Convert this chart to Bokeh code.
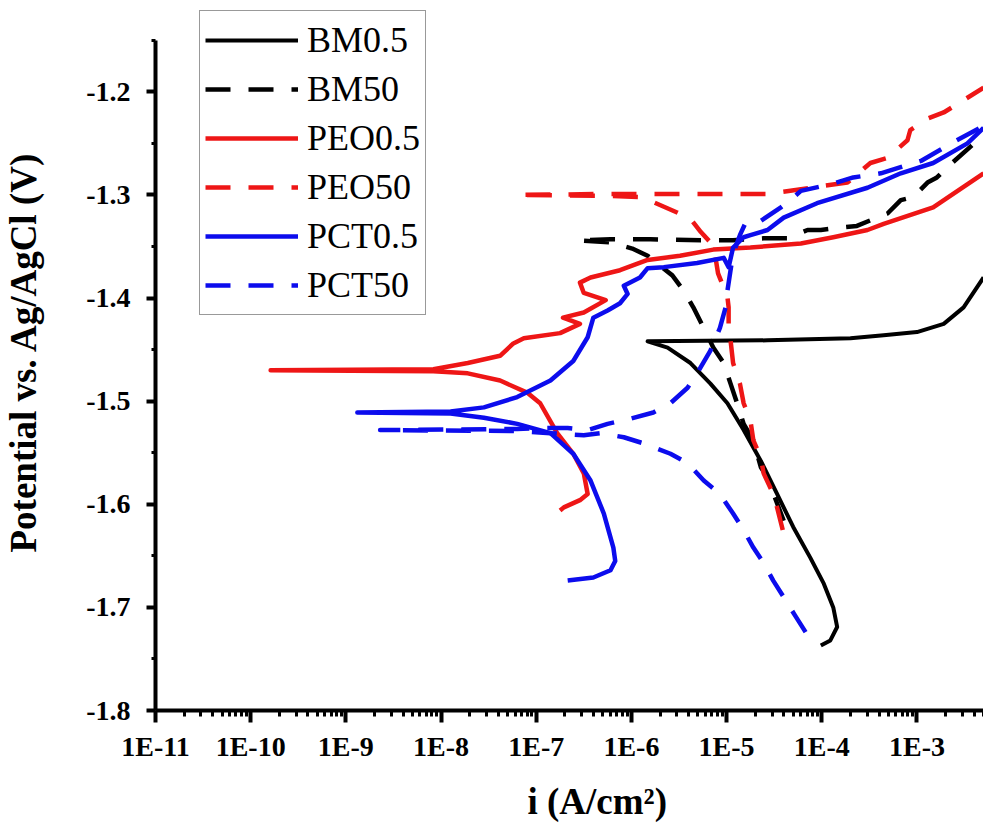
import math
from bokeh.plotting import figure
from bokeh.models import (Range1d, FixedTicker, CustomJSTickFormatter, Legend,
                          LegendItem, Title, ColumnDataSource)
from bokeh.embed import file_html
from bokeh.resources import INLINE

# ---------------- data (current density A/cm2, potential V vs Ag/AgCl) ----------------
bm05_i = [9.77e-5, 1.23e-4, 1.45e-4, 1.32e-4, 1.05e-4, 7.59e-5, 5.01e-5, 3.39e-5, 2.29e-5,
          1.51e-5, 1.02e-5, 6.76e-6, 4.17e-6, 2.40e-6, 1.48e-6, 2.69e-5, 2.00e-4, 4.47e-4,
          1.00e-3, 1.91e-3, 3.09e-3, 5.01e-3]
bm05_E = [-1.737, -1.732, -1.719, -1.700, -1.677, -1.652, -1.622, -1.590, -1.558,
          -1.528, -1.502, -1.483, -1.463, -1.448, -1.442, -1.441, -1.439, -1.436,
          -1.433, -1.425, -1.409, -1.380]

bm50_i = [3.98e-5, 3.39e-5, 2.69e-5, 2.29e-5, 1.91e-5, 1.51e-5, 1.29e-5, 1.10e-5, 9.33e-6,
          7.24e-6, 5.75e-6, 4.47e-6, 3.55e-6, 2.69e-6, 1.48e-6, 1.02e-6, 6.03e-7, 2.75e-7,
          6.03e-7, 1.58e-6, 5.37e-6, 1.17e-5, 2.45e-5, 4.37e-5, 7.08e-5, 9.77e-5, 1.45e-4,
          2.34e-4, 3.80e-4, 4.90e-4, 6.76e-4, 9.12e-4, 1.29e-3, 1.62e-3, 2.40e-3, 5.01e-3]
bm50_E = [-1.616, -1.599, -1.574, -1.564, -1.538, -1.522, -1.502, -1.483, -1.463,
          -1.448, -1.429, -1.409, -1.393, -1.378, -1.359, -1.352, -1.346, -1.344,
          -1.343, -1.343, -1.344, -1.344, -1.342, -1.342, -1.334, -1.334, -1.332,
          -1.330, -1.322, -1.318, -1.305, -1.302, -1.288, -1.283, -1.268, -1.242]

peo05_i = [1.78e-7, 1.95e-7, 2.88e-7, 3.47e-7, 3.16e-7, 2.45e-7, 1.66e-7, 1.10e-7, 8.13e-8,
           4.17e-8, 1.91e-8, 8.3e-9, 1.62e-10, 8.3e-9, 1.91e-8, 4.17e-8, 5.75e-8, 7.41e-8,
           1.78e-7, 2.88e-7, 1.91e-7, 3.16e-7, 5.37e-7, 3.16e-7, 2.88e-7, 3.72e-7, 7.59e-7,
           1.48e-6, 3.24e-6, 7.24e-6, 1.78e-5, 6.03e-5, 1.32e-4, 3.02e-4, 4.47e-4, 1.48e-3,
           5.01e-3]
peo05_E = [-1.606, -1.603, -1.596, -1.590, -1.570, -1.551, -1.531, -1.502, -1.492,
           -1.480, -1.473, -1.471, -1.470, -1.469, -1.463, -1.456, -1.444, -1.439,
           -1.434, -1.425, -1.419, -1.414, -1.402, -1.395, -1.385, -1.380, -1.373,
           -1.363, -1.359, -1.353, -1.351, -1.347, -1.341, -1.334, -1.328, -1.312,
           -1.279]

peo50_i = [3.89e-5, 3.39e-5, 3.09e-5, 2.45e-5, 2.29e-5, 1.91e-5, 1.78e-5, 1.51e-5, 1.38e-5,
           1.17e-5, 1.10e-5, 1.05e-5, 1.05e-5, 1.02e-5, 8.13e-6, 7.59e-6, 6.76e-6, 5.37e-6,
           4.17e-6, 3.02e-6, 1.70e-6, 1.23e-6, 6.03e-7, 6.31e-8, 6.03e-7, 5.37e-6, 2.69e-5,
           4.68e-5, 7.59e-5, 1.86e-4, 3.24e-4, 4.90e-4, 7.94e-4, 8.51e-4, 1.29e-3, 1.91e-3,
           3.09e-3, 5.01e-3]
peo50_E = [-1.625, -1.603, -1.590, -1.570, -1.555, -1.538, -1.519, -1.502, -1.483,
           -1.463, -1.441, -1.427, -1.409, -1.399, -1.376, -1.359, -1.346, -1.336,
           -1.323, -1.317, -1.307, -1.302, -1.301, -1.300, -1.299, -1.299, -1.299,
           -1.296, -1.293, -1.288, -1.269, -1.264, -1.247, -1.237, -1.226, -1.220,
           -1.208, -1.196]

pct05_i = [2.14e-7, 3.98e-7, 6.03e-7, 6.76e-7, 6.46e-7, 5.13e-7, 3.72e-7, 2.45e-7, 1.41e-7,
           6.31e-8, 2.82e-8, 1.26e-8, 1.32e-9, 1.26e-8, 2.82e-8, 6.31e-8, 1.41e-7, 2.45e-7,
           3.47e-7, 3.98e-7, 5.62e-7, 7.59e-7, 9.12e-7, 8.32e-7, 1.23e-6, 1.48e-6, 2.19e-6,
           4.90e-6, 9.33e-6, 1.05e-5, 1.17e-5, 1.51e-5, 1.78e-5, 2.69e-5, 3.98e-5, 8.91e-5,
           3.02e-4, 6.76e-4, 1.48e-3, 3.39e-3, 5.01e-3]
pct05_E = [-1.674, -1.671, -1.664, -1.655, -1.642, -1.609, -1.577, -1.551, -1.531,
           -1.522, -1.516, -1.512, -1.511, -1.510, -1.506, -1.496, -1.480, -1.461,
           -1.438, -1.419, -1.412, -1.405, -1.396, -1.388, -1.380, -1.371, -1.370,
           -1.366, -1.361, -1.370, -1.351, -1.341, -1.339, -1.334, -1.322, -1.308,
           -1.293, -1.279, -1.269, -1.250, -1.235]

pct50_i = [6.76e-5, 5.25e-5, 3.98e-5, 3.09e-5, 2.45e-5, 1.91e-5, 1.51e-5, 1.17e-5, 8.51e-6,
           5.75e-6, 3.89e-6, 2.57e-6, 1.35e-6, 8.32e-7, 4.68e-7, 3.16e-7, 1.41e-7, 6.31e-8,
           2.29e-9, 6.31e-8, 1.20e-7, 2.14e-7, 3.47e-7, 5.62e-7, 9.77e-7, 1.70e-6, 2.57e-6,
           3.89e-6, 4.90e-6, 6.76e-6, 8.51e-6, 9.77e-6, 1.02e-5, 1.10e-5, 1.17e-5, 1.38e-5,
           1.58e-5, 2.29e-5, 3.72e-5, 4.68e-5, 6.03e-5, 1.32e-4, 2.14e-4, 4.17e-4, 1.10e-3,
           2.51e-3, 5.01e-3]
pct50_E = [-1.724, -1.708, -1.690, -1.674, -1.657, -1.642, -1.625, -1.609, -1.590,
           -1.577, -1.560, -1.551, -1.541, -1.535, -1.531, -1.533, -1.531, -1.529,
           -1.528, -1.527, -1.526, -1.526, -1.528, -1.522, -1.517, -1.511, -1.502,
           -1.487, -1.473, -1.451, -1.429, -1.409, -1.393, -1.373, -1.357, -1.339,
           -1.327, -1.325, -1.312, -1.305, -1.296, -1.289, -1.283, -1.279, -1.267,
           -1.248, -1.233]

series_names = ["BM0.5", "BM50", "PEO0.5", "PEO50", "PCT0.5", "PCT50"]

x_ticks = [1e-11, 1e-10, 1e-9, 1e-8, 1e-7, 1e-6, 1e-5, 1e-4, 1e-3]
x_tick_labels = ["1E-11", "1E-10", "1E-9", "1E-8", "1E-7", "1E-6", "1E-5", "1E-4", "1E-3"]
y_ticks = [-1.8, -1.7, -1.6, -1.5, -1.4, -1.3, -1.2]
y_tick_labels = ["-1.8", "-1.7", "-1.6", "-1.5", "-1.4", "-1.3", "-1.2"]
y_minor = [-1.75, -1.65, -1.55, -1.45, -1.35, -1.25, -1.15]

x_title = "i (A/cm\u00b2)"
y_title = "Potential vs. Ag/AgCl (V)"

# ---------------- styling ----------------
BLACK = "#000000"
RED = "#ee1616"
BLUE = "#0c0ced"
SERIF = "Liberation Serif"

p = figure(width=983, height=823, x_axis_type="log",
           x_range=Range1d(1e-11, 5.0e-3), y_range=Range1d(-1.8, -1.1114),
           output_backend="svg", toolbar_location=None,
           min_border_left=155, min_border_right=0, min_border_top=0,
           min_border_bottom=113)
p.outline_line_color = None
p.xgrid.visible = False
p.ygrid.visible = False
p.background_fill_color = "white"
p.border_fill_color = "white"

minor_x = [k * t for t in x_ticks for k in range(2, 10)]
p.xaxis.ticker = FixedTicker(ticks=x_ticks, minor_ticks=minor_x)
p.yaxis.ticker = FixedTicker(ticks=y_ticks, minor_ticks=y_minor)
p.yaxis.bounds = (-1.8, -1.15)

fmt_code = """
let k = -1;
for (let j = 0; j < tvals.length; j++) {
  if (Math.abs(tvals[j] - tick) <= 1e-6 * Math.abs(tvals[j])) { k = j; }
}
return k >= 0 ? tlabels[k] : '';
"""
p.xaxis.formatter = CustomJSTickFormatter(args=dict(tvals=x_ticks, tlabels=x_tick_labels), code=fmt_code)
p.yaxis.formatter = CustomJSTickFormatter(args=dict(tvals=y_ticks, tlabels=y_tick_labels), code=fmt_code)

for ax in (p.xaxis[0], p.yaxis[0]):
    ax.axis_line_width = 4
    ax.axis_line_color = "black"
    ax.major_tick_line_width = 4
    ax.minor_tick_line_width = 3
    ax.major_tick_line_color = "black"
    ax.minor_tick_line_color = "black"
    ax.major_tick_in = 0
    ax.minor_tick_in = 0
    ax.major_label_text_font = SERIF
    ax.major_label_text_font_style = "bold"
    ax.major_label_text_font_size = "28px"
    ax.major_label_text_color = "black"

p.xaxis.major_tick_out = 12
p.xaxis.minor_tick_out = 6
p.xaxis.major_label_standoff = 8
p.yaxis.major_tick_out = 9
p.yaxis.minor_tick_out = 4
p.yaxis.major_label_standoff = 16

# ---------------- curves ----------------
curves = [
    (bm05_i, bm05_E, BLACK, "solid", 4),
    (bm50_i, bm50_E, BLACK, "25 18", 4.5),
    (peo05_i, peo05_E, RED, "solid", 4.5),
    (peo50_i, peo50_E, RED, "25 18", 4.5),
    (pct05_i, pct05_E, BLUE, "solid", 4.5),
    (pct50_i, pct50_E, BLUE, "25 18", 4.5),
]
items = []
for name, (xi, ye, col, dash, lw) in zip(series_names, curves):
    src = ColumnDataSource(dict(i=xi, E=ye))
    r = p.line("i", "E", source=src, line_color=col, line_width=lw, line_dash=dash,
               line_join="round")
    items.append(LegendItem(label=name, renderers=[r]))

legend = Legend(items=items, location=(44, 395), margin=0, padding=5, spacing=1,
                glyph_width=93, glyph_height=48, label_height=48, label_standoff=9,
                label_text_font=SERIF, label_text_font_size="36px",
                label_text_color="black",
                border_line_color="#333333", border_line_width=1.5,
                background_fill_color="white", background_fill_alpha=1.0)
p.add_layout(legend, "center")

# ---------------- axis titles ----------------
xt = Title(text=x_title, align="left", offset=372, standoff=0, vertical_align="top",
           text_font=SERIF, text_font_style="bold", text_font_size="37px",
           text_color="black", padding=(0, 0, 16, 0))
p.add_layout(xt, "below")

yt = Title(text=y_title, align="left", offset=158, standoff=0, vertical_align="bottom",
           text_font=SERIF, text_font_style="bold", text_font_size="37px",
           text_color="black", padding=(0, 0, 0, 40))
p.add_layout(yt, "left")

open("out.html", "w").write(file_html(p, INLINE))
